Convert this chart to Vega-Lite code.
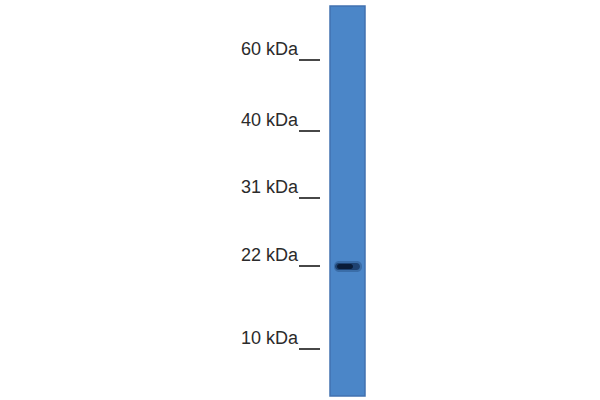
{
  "$schema": "https://vega.github.io/schema/vega-lite/v6.json",
  "width": 600,
  "height": 400,
  "autosize": {"type": "fit", "contains": "padding"},
  "padding": 0,
  "background": "white",
  "config": {"view": {"stroke": null}},
  "datasets": {
    "lane": [{"lane": "sample", "left": 330, "right": 365, "top": 6, "bottom": 396}],
    "band": [{"kda": 21, "left": 334, "right": 362, "pos": 267}],
    "markers": [
      {"label": "60 kDa", "pos": 60},
      {"label": "40 kDa", "pos": 131},
      {"label": "31 kDa", "pos": 198},
      {"label": "22 kDa", "pos": 266},
      {"label": "10 kDa", "pos": 349}
    ]
  },
  "layer": [
    {
      "data": {"name": "lane"},
      "mark": {"type": "rect", "fill": "#4b86c8", "stroke": "#4172b0", "strokeWidth": 1.5},
      "encoding": {
        "x": {"field": "left", "type": "quantitative", "scale": {"domain": [0, 600]}, "axis": null},
        "x2": {"field": "right"},
        "y": {"field": "top", "type": "quantitative", "scale": {"domain": [0, 400], "reverse": true}, "axis": null},
        "y2": {"field": "bottom"}
      }
    },
    {
      "data": {"name": "band"},
      "mark": {"type": "rect", "fill": "#1d3f6e", "opacity": 0.35, "cornerRadius": 5, "yOffset": -6, "y2Offset": 5},
      "encoding": {
        "x": {"field": "left", "type": "quantitative"},
        "x2": {"field": "right"},
        "y": {"field": "pos", "type": "quantitative"},
        "y2": {"field": "pos"}
      }
    },
    {
      "data": {"name": "band"},
      "mark": {"type": "rect", "fill": "#12305a", "opacity": 0.7, "cornerRadius": 4, "xOffset": 1, "x2Offset": -2, "yOffset": -4, "y2Offset": 3},
      "encoding": {
        "x": {"field": "left", "type": "quantitative"},
        "x2": {"field": "right"},
        "y": {"field": "pos", "type": "quantitative"},
        "y2": {"field": "pos"}
      }
    },
    {
      "data": {"name": "band"},
      "mark": {"type": "rect", "fill": "#0a1c38", "cornerRadius": 3, "xOffset": 3, "x2Offset": -9, "yOffset": -3, "y2Offset": 2},
      "encoding": {
        "x": {"field": "left", "type": "quantitative"},
        "x2": {"field": "right"},
        "y": {"field": "pos", "type": "quantitative"},
        "y2": {"field": "pos"}
      }
    },
    {
      "data": {"name": "markers"},
      "mark": {"type": "rule", "stroke": "#333333", "strokeWidth": 1.8, "x": 299, "x2": 320},
      "encoding": {
        "y": {"field": "pos", "type": "quantitative"}
      }
    },
    {
      "data": {"name": "markers"},
      "mark": {"type": "text", "align": "right", "baseline": "alphabetic", "x": 298, "dy": -5, "font": "Liberation Sans", "fontSize": 18, "fill": "#2b2b2b"},
      "encoding": {
        "y": {"field": "pos", "type": "quantitative"},
        "text": {"field": "label"}
      }
    }
  ]
}
